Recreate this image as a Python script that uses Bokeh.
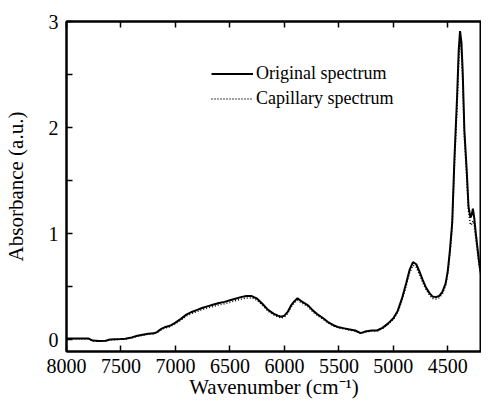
from bokeh.plotting import figure
from bokeh.models import Range1d, LinearAxis, FixedTicker, Legend, LegendItem
from bokeh.embed import file_html
from bokeh.resources import INLINE

wavenumber = [8000, 7900, 7800, 7760, 7700, 7640, 7600, 7500, 7460, 7400,
              7350, 7300, 7250, 7200, 7170, 7130, 7100, 7050, 7000, 6950,
              6900, 6850, 6800, 6750, 6700, 6650, 6600, 6550, 6500, 6450,
              6400, 6350, 6300, 6250, 6200, 6150, 6100, 6060, 6030, 6000,
              5970, 5940, 5910, 5880, 5850, 5820, 5780, 5740, 5700, 5650,
              5600, 5550, 5500, 5450, 5400, 5350, 5300, 5260, 5200, 5150,
              5100, 5050, 5000, 4960, 4920, 4880, 4850, 4820, 4790, 4760,
              4730, 4700, 4670, 4640, 4610, 4580, 4550, 4520, 4500, 4480,
              4460, 4440, 4415, 4400, 4388, 4375, 4364, 4348, 4327, 4310,
              4292, 4280, 4270, 4258, 4243, 4212, 4190]

original = [0.01, 0.01, 0.01, -0.01, -0.015, -0.012, 0.0, 0.005, 0.008, 0.02,
            0.035, 0.045, 0.055, 0.058, 0.07, 0.1, 0.115, 0.13, 0.16, 0.195,
            0.235, 0.26, 0.28, 0.30, 0.315, 0.33, 0.345, 0.355, 0.37, 0.385,
            0.40, 0.41, 0.41, 0.385, 0.335, 0.28, 0.245, 0.225, 0.215, 0.225,
            0.26, 0.32, 0.36, 0.39, 0.365, 0.345, 0.32, 0.275, 0.24, 0.205,
            0.165, 0.135, 0.115, 0.105, 0.095, 0.085, 0.06, 0.075, 0.085, 0.085,
            0.11, 0.15, 0.2, 0.27, 0.39, 0.54, 0.66, 0.73, 0.71, 0.64,
            0.56, 0.49, 0.44, 0.405, 0.40, 0.41, 0.45, 0.53, 0.65, 0.85,
            1.1, 1.69, 2.29, 2.73, 2.91, 2.8, 2.54, 1.97, 1.6, 1.25,
            1.15, 1.18, 1.235, 1.15, 1.0, 0.72, 0.585]

capillary = [0.005, 0.005, 0.005, -0.012, -0.017, -0.014, -0.003, 0.002, 0.005, 0.016,
             0.03, 0.04, 0.05, 0.053, 0.064, 0.093, 0.107, 0.122, 0.15, 0.183,
             0.222, 0.246, 0.265, 0.284, 0.299, 0.313, 0.327, 0.337, 0.351, 0.366,
             0.381, 0.392, 0.393, 0.37, 0.322, 0.268, 0.233, 0.213, 0.203, 0.213,
             0.247, 0.305, 0.344, 0.372, 0.35, 0.331, 0.307, 0.263, 0.229, 0.195,
             0.157, 0.128, 0.109, 0.099, 0.09, 0.08, 0.056, 0.07, 0.08, 0.08,
             0.104, 0.142, 0.19, 0.257, 0.372, 0.516, 0.632, 0.70, 0.682, 0.614,
             0.537, 0.47, 0.422, 0.388, 0.383, 0.393, 0.432, 0.508, 0.624, 0.818,
             1.06, 1.63, 2.21, 2.63, 2.81, 2.71, 2.46, 1.9, 1.54, 1.2,
             1.08, 1.09, 1.12, 1.07, 0.95, 0.69, 0.565]

x_ticks = [8000, 7500, 7000, 6500, 6000, 5500, 5000, 4500]
y_ticks = [0, 1, 2, 3]
y_minor_ticks = [0.5, 1.5, 2.5]
series_labels = ["Original spectrum", "Capillary spectrum"]
x_title = "Wavenumber (cm\u207b\u00b9)"
y_title = "Absorbance (a.u.)"
x_lim = (8000, 4191)
y_lim = (-0.113, 3.0)

FONT = "Liberation Serif"

p = figure(width=481, height=401, output_backend="svg", toolbar_location=None,
           x_range=Range1d(*x_lim), y_range=Range1d(*y_lim),
           min_border_left=62, min_border_top=21, min_border_bottom=50,
           min_border_right=0, x_axis_label=x_title, y_axis_label=y_title)
p.grid.visible = False
p.outline_line_color = "black"
p.outline_line_width = 2

bottom = p.below[0]
left = p.left[0]
bottom.ticker = FixedTicker(ticks=x_ticks, minor_ticks=[])
left.ticker = FixedTicker(ticks=y_ticks, minor_ticks=y_minor_ticks)

top = LinearAxis(ticker=FixedTicker(ticks=x_ticks, minor_ticks=[]))
p.add_layout(top, "above")

for ax in (bottom, left, top):
    ax.axis_line_width = 2
    ax.axis_line_color = "black"
    ax.major_tick_in = 6
    ax.major_tick_out = 0
    ax.minor_tick_in = 6
    ax.minor_tick_out = 0
    ax.major_tick_line_width = 1.5
    ax.minor_tick_line_width = 1.5
    ax.major_tick_line_color = "black"
    ax.minor_tick_line_color = "black"
    ax.major_label_text_font = FONT
    ax.major_label_text_color = "black"
    ax.axis_label_text_font = FONT
    ax.axis_label_text_font_style = "normal"
    ax.axis_label_text_font_size = "21px"
    ax.axis_label_text_color = "black"

top.major_label_text_font_size = "0px"
top.major_label_overrides = {t: "" for t in x_ticks}
top.major_label_standoff = 0

bottom.major_label_text_font_size = "20px"
bottom.major_label_standoff = 7
bottom.axis_label_standoff = -1

left.major_label_text_font_size = "20px"
left.major_label_standoff = 8
left.axis_label_standoff = 18

r1 = p.line(wavenumber, original, line_color="black", line_width=2)
r2 = p.line(wavenumber, capillary, line_color="black", line_width=1.5,
            line_dash="1 2")

legend = Legend(items=[LegendItem(label=series_labels[0], renderers=[r1]),
                       LegendItem(label=series_labels[1], renderers=[r2])],
                location=(145, 240), padding=0, margin=0, spacing=0,
                border_line_color=None, background_fill_alpha=0,
                glyph_width=42, glyph_height=25, label_height=25,
                label_standoff=3, label_text_font=FONT,
                label_text_font_size="18px", label_text_color="black")
p.add_layout(legend)

open("out.html", "w").write(file_html(p, INLINE))
